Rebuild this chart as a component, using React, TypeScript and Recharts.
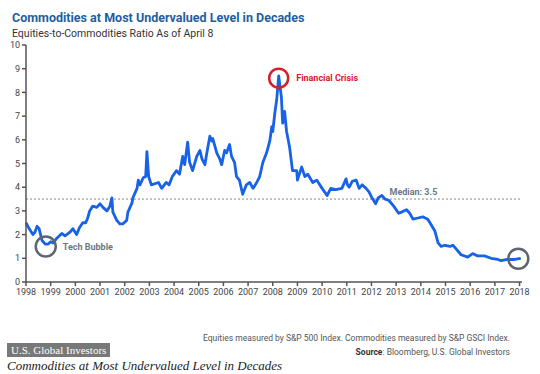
import React from 'react'
import {
  LineChart,
  Line,
  XAxis,
  YAxis,
  ReferenceLine,
  ReferenceDot,
} from 'recharts'

// time in decimal years, ratio
const years = [
  1998.0, 1998.1, 1998.28, 1998.36, 1998.45, 1998.53, 1998.65, 1998.78, 1998.9, 1999.0,
  1999.1, 1999.25, 1999.45, 1999.58, 1999.78, 1999.9, 2000.05, 2000.17, 2000.3, 2000.42,
  2000.5, 2000.58, 2000.7, 2000.87, 2001.0, 2001.12, 2001.28, 2001.4, 2001.48, 2001.52,
  2001.68, 2001.8, 2001.92, 2002.08, 2002.13, 2002.3, 2002.33, 2002.5, 2002.55, 2002.62,
  2002.75, 2002.85, 2002.9, 2002.97, 2003.08, 2003.37, 2003.5, 2003.68, 2003.8, 2003.93,
  2004.1, 2004.22, 2004.35, 2004.43, 2004.55, 2004.63, 2004.75, 2004.92, 2005.05, 2005.13,
  2005.25, 2005.33, 2005.45, 2005.53, 2005.57, 2005.73, 2005.85, 2005.93, 2006.05, 2006.13,
  2006.25, 2006.33, 2006.45, 2006.53, 2006.65, 2006.78, 2006.93, 2007.07, 2007.2, 2007.35,
  2007.47, 2007.6, 2007.75, 2007.88, 2007.96, 2008.0, 2008.08, 2008.16, 2008.24, 2008.35,
  2008.4, 2008.48, 2008.56, 2008.68, 2008.8, 2008.97, 2009.0, 2009.17, 2009.3, 2009.42,
  2009.62, 2009.78, 2010.0, 2010.2, 2010.35, 2010.55, 2010.8, 2010.97, 2011.03, 2011.1,
  2011.22, 2011.38, 2011.5, 2011.62, 2011.78, 2011.9, 2012.02, 2012.17, 2012.27, 2012.42,
  2012.55, 2012.7, 2012.9, 2013.1, 2013.22, 2013.42, 2013.55, 2013.68, 2013.88, 2014.08,
  2014.28, 2014.4, 2014.57, 2014.7, 2014.82, 2014.98, 2015.18, 2015.3, 2015.43, 2015.63,
  2015.9, 2016.1, 2016.3, 2016.58, 2016.85, 2017.12, 2017.25, 2017.5, 2017.8, 2018.05,
]

const ratio = [
  2.5, 2.3, 2.0, 2.1, 2.35, 2.25, 1.75, 1.6, 1.6, 1.7,
  1.65, 1.85, 2.05, 1.95, 2.1, 2.25, 2.0, 2.3, 2.5, 2.5,
  2.7, 3.0, 3.2, 3.15, 3.3, 3.15, 3.0, 3.2, 3.55, 2.95,
  2.6, 2.45, 2.45, 2.6, 2.95, 3.35, 3.55, 3.95, 4.3, 4.1,
  4.4, 4.45, 5.5, 4.45, 4.1, 4.2, 3.95, 4.2, 4.1, 4.45,
  4.7, 4.55, 5.3, 4.95, 5.9, 5.05, 4.7, 5.3, 5.55, 5.2,
  4.95, 5.45, 6.15, 5.95, 6.05, 5.45, 5.2, 4.95, 5.55, 5.45,
  5.8, 5.3, 5.05, 4.45, 4.3, 3.7, 4.1, 4.2, 3.95, 4.2,
  4.45, 5.05, 5.45, 5.95, 6.55, 6.35, 7.1, 7.7, 8.7, 7.8,
  6.7, 7.2, 6.35, 5.7, 4.7, 4.7, 4.3, 4.85, 4.45, 4.55,
  4.2, 4.3, 3.95, 3.65, 3.95, 3.9, 3.95, 4.35, 4.1, 4.0,
  4.25, 4.3, 3.95, 4.1, 3.95, 3.8, 3.55, 3.3, 3.55, 3.65,
  3.5, 3.45, 3.2, 2.9, 2.95, 3.05, 2.9, 2.65, 2.7, 2.75,
  2.65, 2.45, 2.15, 1.65, 1.5, 1.55, 1.5, 1.55, 1.4, 1.15,
  1.05, 1.2, 1.1, 1.1, 1.0, 0.95, 0.9, 0.95, 0.95, 1.0,
]

const xTicks = [
  1998, 1999, 2000, 2001, 2002, 2003, 2004, 2005, 2006, 2007, 2008,
  2009, 2010, 2011, 2012, 2013, 2014, 2015, 2016, 2017, 2018,
]
const yTicks = [0, 1, 2, 3, 4, 5, 6, 7, 8, 9, 10]

const median = 3.5
const techBubble = { x: 1998.8, y: 1.5 }
const crisis = { x: 2008.24, y: 8.6 }
const latest = { x: 2017.95, y: 0.98 }

const data = years.map((t, i) => ({ t, v: ratio[i] }))

const sans = 'Roboto, "Open Sans", sans-serif'
const serif = '"Liberation Serif", "DejaVu Serif", serif'

export default function App() {
  return (
    <div style={{ position: 'absolute', left: 0, top: 0, width: 540, height: 374, background: '#fff' }}>
      <div style={{ position: 'absolute', left: 12, top: 10, fontFamily: sans, fontWeight: 700, fontSize: 12.5, color: '#1f5e9e', whiteSpace: 'nowrap' }}>
        Commodities at Most Undervalued Level in Decades
      </div>
      <div style={{ position: 'absolute', left: 12, top: 27, fontFamily: sans, fontSize: 10.5, color: '#333', whiteSpace: 'nowrap' }}>
        Equities-to-Commodities Ratio As of April 8
      </div>

      <div style={{ position: 'absolute', left: 0, top: 0 }}>
        <LineChart width={540} height={374} data={data} margin={{ top: 45, right: 18, bottom: 62, left: 0 }}>
          <XAxis
            dataKey="t"
            type="number"
            domain={[1998, 2018.1]}
            ticks={xTicks}
            interval={0}
            tick={{ fill: '#444', fontSize: 9, fontFamily: sans }}
            tickSize={4}
            tickMargin={3}
            stroke="#555"
            strokeWidth={1.5}
          />
          <YAxis
            type="number"
            domain={[0, 10]}
            ticks={yTicks}
            interval={0}
            width={26}
            tick={{ fill: '#444', fontSize: 9, fontFamily: sans }}
            tickSize={4}
            tickMargin={2}
            stroke="#555"
            strokeWidth={1.5}
          />
          <ReferenceLine y={median} stroke="#888" strokeDasharray="2 2" strokeWidth={1} />
          <Line
            type="linear"
            dataKey="v"
            stroke="#1762e6"
            strokeWidth={2.8}
            strokeLinejoin="round"
            dot={false}
            isAnimationActive={false}
          />
          <ReferenceDot
            x={2013.7}
            y={median}
            r={0}
            fill="none"
            stroke="none"
            label={{ value: 'Median: 3.5', position: 'top', offset: 4, fill: '#6b7785', fontSize: 9, fontWeight: 700, fontFamily: sans }}
          />
          <ReferenceDot
            x={techBubble.x}
            y={techBubble.y}
            r={10}
            fill="none"
            stroke="#5d6670"
            strokeWidth={2.5}
            label={{ value: 'Tech Bubble', position: 'right', offset: 7, fill: '#6b7785', fontSize: 9, fontWeight: 700, fontFamily: sans }}
          />
          <ReferenceDot
            x={crisis.x}
            y={crisis.y}
            r={9.5}
            fill="none"
            stroke="#d4202c"
            strokeWidth={2.5}
            label={{ value: 'Financial Crisis', position: 'right', offset: 8, fill: '#d4202c', fontSize: 9, fontWeight: 700, fontFamily: sans }}
          />
          <ReferenceDot
            x={latest.x}
            y={latest.y}
            r={10}
            fill="none"
            stroke="#5d6670"
            strokeWidth={2.5}
          />
        </LineChart>
      </div>

      <div style={{ position: 'absolute', right: 30, top: 333, fontFamily: sans, fontSize: 8.5, color: '#555', whiteSpace: 'nowrap', textAlign: 'right' }}>
        Equities measured by S&amp;P 500 Index. Commodities measured by S&amp;P GSCI Index.
      </div>
      <div style={{ position: 'absolute', right: 30, top: 347, fontFamily: sans, fontSize: 8.5, color: '#555', whiteSpace: 'nowrap', textAlign: 'right' }}>
        <b style={{ color: '#333' }}>Source</b>: Bloomberg, U.S. Global Investors
      </div>

      <div style={{ position: 'absolute', left: 7, top: 343, height: 14, lineHeight: '14px', padding: '0 4px', background: '#787878', color: '#fff', fontFamily: serif, fontSize: 11, whiteSpace: 'nowrap' }}>
        U.S. Global Investors
      </div>
      <div style={{ position: 'absolute', left: 7, top: 358, fontFamily: serif, fontStyle: 'italic', fontSize: 13, color: '#222', whiteSpace: 'nowrap' }}>
        Commodities at Most Undervalued Level in Decades
      </div>
    </div>
  )
}
